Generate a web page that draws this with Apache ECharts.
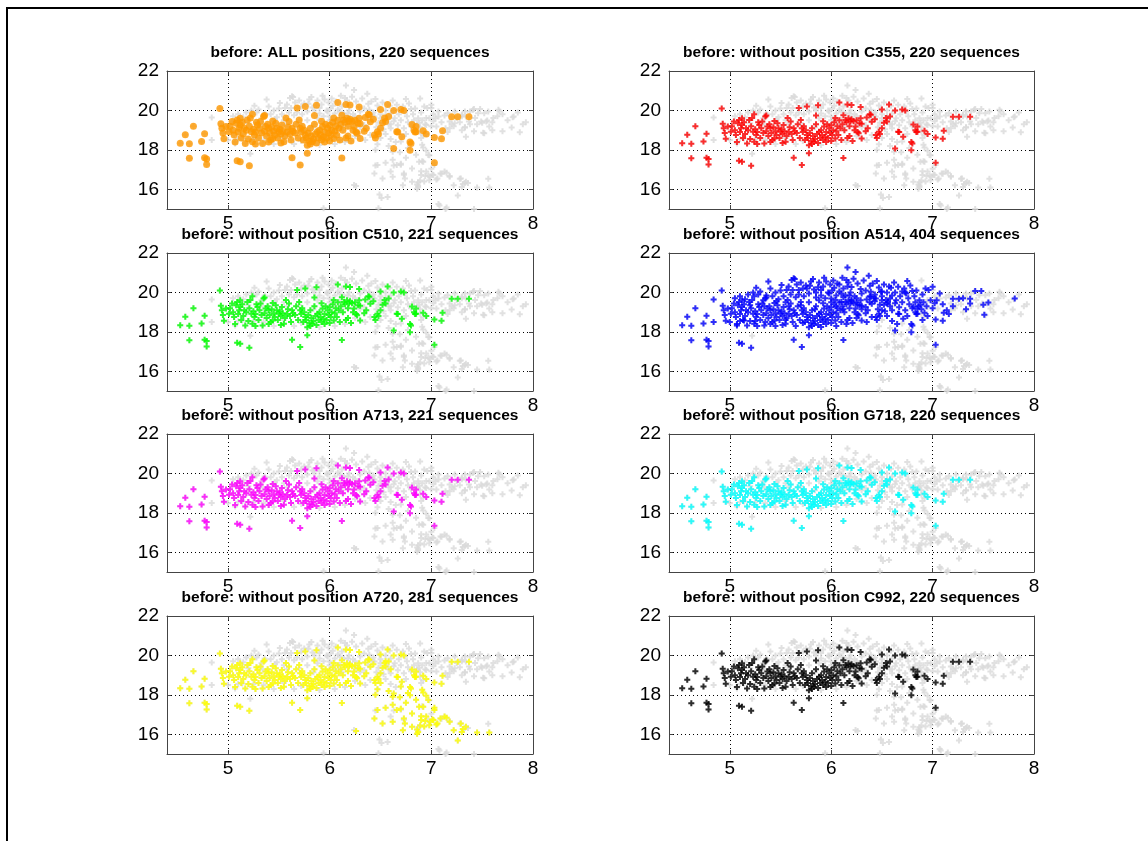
<!DOCTYPE html>
<html>
<head>
<meta charset="utf-8">
<script src="https://cdn.jsdelivr.net/npm/echarts/dist/echarts.min.js"></script>
<style>
html,body{margin:0;padding:0;background:#fff;}
#c{width:1148px;height:841px;}
</style>
</head>
<body>
<div id="c"></div>
<script>
// ---- data (x, y) ----
const xTicks = [5, 6, 7, 8];
const yTicks = [16, 18, 20, 22];

// points shared by the ~220-sequence subsets
const corePoints = [
[4.53,18.34],[4.58,18.77],[4.62,18.31],[4.62,17.57],[4.66,19.2],[4.74,18.43],[4.77,18.82],[4.77,17.6],[4.79,17.54],[4.79,17.26],[4.92,20.1],[4.93,19.32],[4.95,18.85],[4.96,18.56],[4.94,19.1],[4.98,19.18],
[5.01,18.92],[5.04,19.44],[5.09,19.52],[5.12,19.26],[5.16,19.09],[5.19,19.52],[5.22,19.61],[5.23,18.92],[5.26,18.75],[5.29,19.26],[5.32,19.44],[5.35,19.69],[5.37,19.18],[5.40,19.09],[5.44,19.47],[5.47,19.35],[5.50,18.92],[5.53,19.26],[5.57,19.61],[5.60,19.44],[5.63,19.09],[5.17,18.32],[5.24,18.41],[5.34,18.32],[5.44,18.58],[5.55,18.41],[5.62,18.5],
[5.02,19.2],[5.05,19.0],[5.06,18.75],[5.08,19.35],[5.10,18.9],[5.11,19.1],[5.13,18.6],[5.14,19.4],[5.15,18.8],[5.18,19.0],[5.2,18.55],[5.21,19.2],[5.25,19.05],[5.27,18.9],[5.28,19.4],[5.3,18.6],[5.31,19.1],[5.33,18.85],[5.36,18.95],[5.38,18.7],[5.39,19.3],[5.41,18.85],[5.42,18.5],[5.43,19.15],[5.45,18.95],[5.46,18.75],[5.48,19.1],[5.49,18.6],[5.51,19.05],[5.52,18.8],[5.54,18.95],[5.56,18.7],[5.58,18.9],[5.59,19.15],[5.61,18.8],[5.64,18.95],[5.66,18.85],[5.12,19.6],[5.24,19.8],[5.36,19.74],[5.07,18.4],[5.27,18.3],[5.52,18.35],[5.4,18.4],
[5.09,17.45],[5.12,17.4],[5.21,17.2],[5.63,17.6],[5.71,17.23],[5.78,17.83],
[5.68,20.12],[5.76,20.2],[5.87,20.26],[5.7,19.52],[5.85,19.74],[5.71,19.09],[5.76,18.75],[5.78,18.24],[5.83,18.41],[5.88,18.92],[5.93,19.18],[5.94,18.67],[6.01,18.75],[6.04,19.61],[6.04,18.58],[6.09,19.09],[6.14,19.52],[6.19,19.44],[6.24,19.18],[6.27,18.84],[6.3,18.58],[6.35,19.64],[6.39,19.78],[6.44,18.75],[6.47,18.92],[6.55,19.44],[6.58,19.69],[6.66,18.92],[6.71,18.67],[6.8,18.32],[6.79,17.98],[6.85,19.18],[6.85,18.92],[6.63,18.07],[6.12,17.59],
[5.67,19.3],[5.69,18.6],[5.72,18.9],[5.73,19.2],[5.74,18.5],[5.75,19.0],[5.77,18.6],[5.79,18.85],[5.8,18.45],[5.81,19.1],[5.82,18.7],[5.84,18.55],[5.86,18.8],[5.87,18.35],[5.89,18.6],[5.9,19.0],[5.91,18.75],[5.92,18.5],[5.95,18.9],[5.96,19.3],[5.97,18.6],[5.98,19.1],[5.99,18.85],[6.0,19.25],[6.02,19.0],[6.03,19.4],[6.05,18.95],[6.06,19.2],[6.07,18.75],[6.08,19.5],[6.1,18.5],[6.11,19.3],[6.12,19.75],[6.13,19.0],[6.15,19.4],[6.16,18.6],[6.17,19.6],[6.18,19.2],[6.2,19.55],[6.21,18.45],[6.22,19.45],[6.23,19.0],[6.25,19.5],[6.26,18.9],[6.28,19.35],[6.29,19.6],[5.92,19.45],[5.95,18.4],[6.0,18.45],[5.85,19.3],[5.81,18.3],[6.18,18.7],
[6.08,20.4],[6.16,20.3],[6.2,20.27],[6.29,20.17],[6.38,19.8],[6.5,20.05],[6.57,20.3],[6.63,20.0],[6.7,20.05],[6.73,20.0],[6.54,19.62],[6.52,19.37],[6.48,18.8],[6.3,19.32],[6.34,18.94],[6.4,19.42],[6.43,19.55],[6.36,19.1],[6.45,18.6],[6.5,19.1],
[6.67,18.9],[6.79,18.4],[6.81,19.28],[6.83,19.0],[6.84,18.9],[6.92,18.97],[6.95,18.8],[7.03,18.63],[7.1,18.56],[7.11,18.97],[7.03,17.35],[7.2,19.68],[7.26,19.68],[7.37,19.68]
];

// extra points of the 404-sequence subset (A514)
const blueExtra = [
[4.84,19.64],[4.84,18.5],[5.07,18.32],[5.14,18.58],[5.38,20.55],[5.26,20.24],[5.23,20.0],[5.36,19.85],[5.51,20.38],[5.56,20.12],[5.61,20.63],[5.63,20.72],
[6.16,21.26],[6.24,21.03],[6.37,20.84],[6.45,20.58],[6.75,20.58],[5.82,20.68],[5.93,20.75],[5.64,20.68],[6.15,20.63],[6.03,20.24],[5.62,20.12],
[5.72,20.2],[5.79,20.34],[5.9,20.12],[5.98,19.95],[6.1,19.95],[6.38,20.34],[6.39,20.03],[6.49,20.03],[6.59,20.24],[6.66,20.29],[6.74,19.95],[6.8,20.07],[6.0,19.69],[6.1,19.52],[6.2,19.61],[6.26,19.38],[6.34,19.26],[6.44,19.69],[6.56,19.52],[6.48,19.38],
[7.81,19.69],[7.42,20.07],[7.48,20.07],[7.55,19.49],[7.5,19.38],[7.51,18.87],[7.37,19.44],[7.33,19.15],[7.3,19.7],[7.2,19.3],[7.14,19.1],[7.16,18.9],[7.1,19.4],[7.04,19.6],[7.07,19.95],[7.0,20.29],[6.96,20.12],[6.93,20.2],[6.88,19.38],
[5.05,19.7],[5.1,19.8],[5.15,19.65],[5.18,19.9],[5.28,19.9],[5.3,20.05],[5.33,19.6],[5.4,20.2],[5.42,19.8],[5.45,20.0],[5.48,19.65],[5.5,20.1],[5.53,19.8],[5.55,19.5],[5.58,20.3],[5.6,19.9],[5.65,19.75],[5.66,20.4],[5.68,19.9],[5.7,20.5],[5.73,19.8],[5.75,20.35],[5.78,19.95],[5.8,20.55],[5.83,20.15],[5.85,20.0],[5.88,20.5],[5.9,19.85],[5.92,20.3],[5.95,20.55],[5.97,20.0],[5.99,20.4],[6.01,20.1],[6.02,20.6],[6.05,19.85],[6.06,20.45],[6.08,20.05],[6.11,20.75],[6.12,20.2],[6.14,19.85],[6.17,20.5],[6.19,20.0],[6.22,20.7],[6.23,19.8],[6.26,20.45],[6.3,19.95],[6.32,20.6],[6.34,20.1],[6.41,20.45],[6.43,19.9],[6.47,20.25],[6.5,19.8],[6.52,20.4],[6.55,20.0],[6.6,19.85],[6.62,20.5],[6.64,19.6],[6.68,19.8],[6.72,20.2],[6.76,19.7],[6.78,20.35],[6.82,19.8],[6.84,20.1],[6.87,19.6],[6.9,19.9],
[5.2,19.35],[5.34,19.3],[5.46,19.55],[5.58,19.3],[5.7,19.35],[5.78,19.5],[5.84,19.15],[5.88,19.6],[5.94,19.7],[6.0,19.5],[6.05,19.3],[6.12,19.15],[6.18,19.85],[6.25,19.7],[6.3,19.15],[6.38,19.5],[6.42,19.7],[6.46,19.15],[6.5,19.6],[6.53,19.05],[6.58,19.3],[6.6,19.1],[6.63,19.45],[6.67,19.25],[6.7,19.5],[6.73,19.1],[6.77,19.4],[6.8,19.2],[6.83,19.5],[6.86,19.3],[6.89,19.15],[6.91,19.5],[6.94,19.3],[6.98,19.6],[7.0,19.2],[7.02,19.45],
[5.0,18.5],[5.1,18.55],[5.25,18.55],[5.35,18.5],[5.45,18.3],[5.55,18.6],[5.65,18.3],[5.72,18.45],[5.9,18.25],[6.05,18.3],[6.15,18.4],[6.25,18.7],[6.35,18.5],[6.4,18.75],[6.55,18.8],[6.6,18.55],[6.75,18.8],[6.9,18.6],[6.65,18.4]
];

// extra points of the 281-sequence subset (A720)
const yellowExtra = [
[6.47,18.29],[6.47,17.23],[6.55,17.35],[6.52,16.55],[6.62,16.63],[6.66,17.23],[6.69,17.88],[6.7,18.43],[6.73,16.8],[6.74,16.55],[6.72,16.2],[6.77,18.09],[6.81,17.06],[6.81,16.38],[6.86,16.24],[6.86,16.03],[6.88,17.4],[6.9,16.72],[6.91,18.26],[6.95,16.9],[6.93,16.4],[6.98,16.46],[6.99,16.63],[7.02,16.72],[7.06,16.55],[7.09,16.8],[7.13,16.9],[7.18,16.63],[7.22,16.2],[7.26,15.69],[7.29,16.55],[7.3,16.12],[7.34,16.38],[7.45,16.09],[7.57,16.09],[6.26,16.17],[6.44,16.8],
[6.97,17.74],[6.92,17.4],[6.9,16.92],[6.94,16.68],[7.01,16.75],[7.05,16.5],[7.15,16.84],[6.89,16.44],[6.87,16.12],[7.31,16.27],[7.03,17.23],[6.92,18.12],
[6.55,19.7],[6.6,19.3],[6.5,18.6],[6.45,18.0],[6.58,18.2],[6.62,17.9],[6.75,17.6],[6.85,17.75],[6.95,17.95],[6.7,17.3],[6.62,17.5]
];

// points present only in the grey full set
const greyOnly = [
[6.89,20.6],[7.0,20.12],[6.95,19.61],[7.02,19.81],[7.07,19.69],[7.13,19.74],[7.16,19.86],[7.18,19.44],[7.23,19.95],[7.25,19.61],[7.3,19.78],[7.33,19.95],[7.34,19.69],[7.38,19.95],[7.41,20.03],[7.43,19.61],[7.46,19.86],[7.49,19.44],[7.52,19.86],[7.56,19.95],[7.61,19.61],[7.66,20.03],[7.67,19.95],[7.54,19.44],[7.57,19.18],[7.8,19.66],[7.93,19.4],[7.87,18.89],[7.79,19.13],[7.52,18.84],[7.34,18.67],[7.33,19.13],[7.23,19.35],[7.18,19.09],[7.05,19.18],[6.95,19.26],[6.92,18.75],[6.89,18.92],
[7.6,19.4],[7.7,19.8],[7.75,19.5],[7.85,19.9],[7.9,19.3],[7.45,19.3],[7.38,19.3],[7.28,19.4],[7.22,19.2],[7.3,19.0],[7.42,18.95],[7.6,19.0],[7.65,19.7],[7.7,18.95],
[6.98,17.73],[6.91,17.42],[7.0,17.04],[6.97,16.7],[7.1,16.79],[7.18,16.67],[7.28,16.53],[7.33,16.32],[7.36,16.32],[7.56,16.53],[6.87,16.36],[6.87,16.19],[7.07,15.25],[7.15,15.08],
[6.49,15.73],[6.51,15.56],[6.57,15.61],[5.94,15.04],[6.48,15.04],[7.42,15.0],[7.14,15.0],[7.08,15.18],[6.45,17.21],[6.6,16.9],[6.7,17.25],[6.24,16.22],[5.22,17.8],[6.63,17.21],[6.73,16.74]
];

const panelTitles = [
  'before: ALL positions, 220 sequences',
  'before: without position C355, 220 sequences',
  'before: without position C510, 221 sequences',
  'before: without position A514, 404 sequences',
  'before: without position A713, 221 sequences',
  'before: without position G718, 220 sequences',
  'before: without position A720, 281 sequences',
  'before: without position C992, 220 sequences'
];
const panelColors = ['#ff9900','#ff0000','#00ff00','#0000ff','#ff00ff','#00ffff','#ffff00','#000000'];
// which extra set each panel adds to the common points
const panelExtras = [[], [], [], blueExtra, [], [], yellowExtra, []];

// ---- build chart ----
const allPoints = corePoints.concat(blueExtra, yellowExtra, greyOnly);
const plusPath = 'path://M1,0H2V1H3V2H2V3H1V2H0V1H1Z';
const colLeft = [167, 669], colWidth = [366, 365];
const rowTop = [71, 253, 434, 616], plotH = 138;
const FONT = '"Liberation Sans", Arial, Helvetica, sans-serif';
const frameColor = '#444';

const grids = [], xAxes = [], yAxes = [], series = [], graphics = [];
panelTitles.forEach((title, i) => {
  const r = Math.floor(i / 2), c = i % 2;
  grids.push({left: colLeft[c], top: rowTop[r], width: colWidth[c], height: plotH});
  const axLine = {show: true, onZero: false, lineStyle: {color: frameColor, width: 1}};
  xAxes.push({
    gridIndex: i, type: 'value', position: 'bottom', min: 4.4, max: 8,
    axisLine: axLine,
    axisTick: {show: true, inside: true, length: 4, customValues: xTicks, lineStyle: {color: frameColor}},
    axisLabel: {show: true, customValues: xTicks, fontSize: 19, color: '#000', margin: 5, fontFamily: FONT},
    splitLine: {show: true, lineStyle: {type: [1, 3], color: '#000', width: 1}}
  });
  xAxes.push({
    gridIndex: i, type: 'value', position: 'top', min: 4.4, max: 8,
    axisLine: axLine,
    axisTick: {show: true, inside: true, length: 4, customValues: xTicks, lineStyle: {color: frameColor}},
    axisLabel: {show: false}, splitLine: {show: false}
  });
  yAxes.push({
    gridIndex: i, type: 'value', position: 'left', min: 15, max: 22,
    axisLine: axLine,
    axisTick: {show: true, inside: true, length: 4, customValues: yTicks, lineStyle: {color: frameColor}},
    axisLabel: {show: true, customValues: yTicks, fontSize: 19, color: '#000', margin: 8, fontFamily: FONT},
    splitLine: {show: true, lineStyle: {type: [1, 3], color: '#000', width: 1}}
  });
  yAxes.push({
    gridIndex: i, type: 'value', position: 'right', min: 15, max: 22,
    axisLine: axLine,
    axisTick: {show: true, inside: true, length: 4, customValues: yTicks, lineStyle: {color: frameColor}},
    axisLabel: {show: false}, splitLine: {show: false}
  });
  series.push({
    type: 'scatter', xAxisIndex: 2 * i, yAxisIndex: 2 * i, data: allPoints,
    symbol: plusPath, symbolSize: 6, itemStyle: {color: '#d9d9d9'}, silent: true, z: 2
  });
  const pts = corePoints.concat(panelExtras[i]);
  series.push({
    type: 'scatter', xAxisIndex: 2 * i, yAxisIndex: 2 * i, data: pts,
    symbol: i === 0 ? 'circle' : plusPath, symbolSize: i === 0 ? 7 : 6,
    itemStyle: {color: panelColors[i]}, silent: true, z: 3
  });
  graphics.push({
    type: 'text', x: colLeft[c] + colWidth[c] / 2, y: rowTop[r] - 18, z: 100,
    style: {text: title, font: 'bold 15.5px ' + FONT, fill: '#000', align: 'center', verticalAlign: 'middle'}
  });
});
graphics.push({
  type: 'polyline', z: 100,
  shape: {points: [[7, 841], [7, 8], [1148, 8]]},
  style: {stroke: '#000', lineWidth: 2, fill: null}
});

const chart = echarts.init(document.getElementById('c'), null, {renderer: 'canvas'});
chart.setOption({
  animation: false,
  backgroundColor: '#fff',
  textStyle: {fontFamily: FONT},
  grid: grids, xAxis: xAxes, yAxis: yAxes, series: series, graphic: graphics
});
</script>
</body>
</html>
